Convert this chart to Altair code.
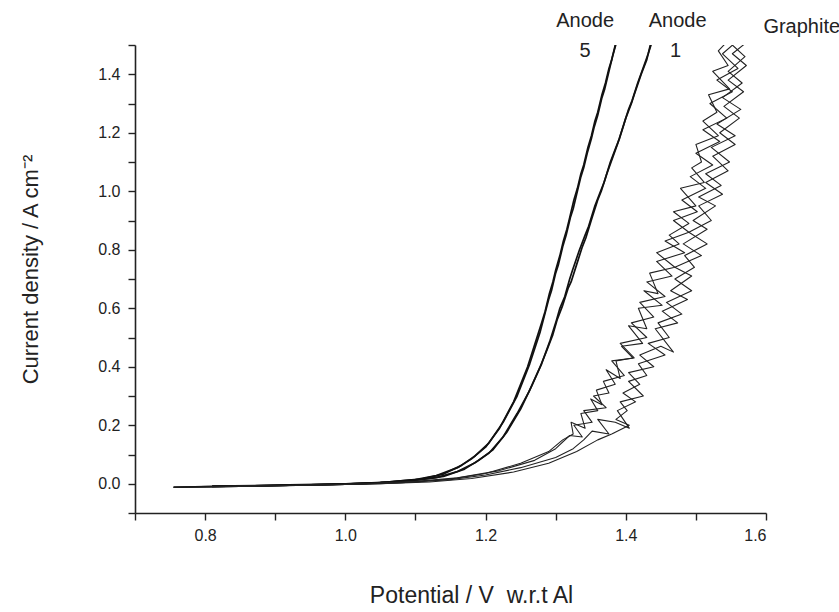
import altair as alt
import pandas as pd

# ---------------- data ----------------
anode5_a_x = [0.755, 0.80, 0.90, 1.00, 1.05, 1.10, 1.13, 1.16, 1.18, 1.20, 1.22, 1.24, 1.26, 1.28,
              1.285, 1.291, 1.296, 1.30, 1.306, 1.311, 1.316, 1.32, 1.326, 1.331, 1.336, 1.34, 1.346,
              1.351, 1.356, 1.36, 1.366, 1.371, 1.376, 1.38, 1.386]
anode5_a_y = [-0.012, -0.010, -0.006, -0.001, 0.004, 0.014, 0.028, 0.055, 0.085, 0.125, 0.19, 0.28, 0.40, 0.55,
              0.59, 0.65, 0.69, 0.73, 0.78, 0.83, 0.87, 0.91, 0.97, 1.01, 1.06, 1.09, 1.15,
              1.19, 1.24, 1.27, 1.33, 1.37, 1.42, 1.45, 1.51]
anode5_b_x = [0.81, 0.90, 1.00, 1.06, 1.11, 1.14, 1.165, 1.185, 1.205, 1.225, 1.245, 1.263, 1.278, 1.29,
              1.294, 1.30, 1.304, 1.31, 1.315, 1.321, 1.325, 1.33, 1.336, 1.34, 1.345, 1.351, 1.355,
              1.36, 1.366, 1.37, 1.375, 1.381, 1.388]
anode5_b_y = [-0.009, -0.006, -0.001, 0.006, 0.017, 0.033, 0.062, 0.095, 0.14, 0.21, 0.30, 0.41, 0.52, 0.63,
              0.66, 0.72, 0.75, 0.81, 0.85, 0.91, 0.94, 0.99, 1.05, 1.08, 1.13, 1.18, 1.22,
              1.26, 1.32, 1.35, 1.40, 1.46, 1.52]
anode1_a_x = [0.81, 0.90, 1.00, 1.05, 1.10, 1.14, 1.17, 1.19, 1.21, 1.23, 1.25, 1.265, 1.28, 1.286,
              1.292, 1.30, 1.306, 1.313, 1.32, 1.324, 1.334, 1.342, 1.347, 1.356, 1.364, 1.369, 1.378,
              1.386, 1.391, 1.40, 1.408, 1.412, 1.422, 1.43, 1.436]
anode1_a_y = [-0.008, -0.005, 0.0, 0.004, 0.012, 0.025, 0.05, 0.08, 0.115, 0.175, 0.255, 0.33, 0.41, 0.45,
              0.49, 0.55, 0.60, 0.64, 0.70, 0.73, 0.80, 0.85, 0.88, 0.95, 1.0, 1.03, 1.10,
              1.15, 1.18, 1.25, 1.30, 1.33, 1.40, 1.45, 1.51]
anode1_b_x = [0.755, 0.85, 0.95, 1.04, 1.09, 1.13, 1.16, 1.185, 1.205, 1.225, 1.245, 1.262, 1.277, 1.288,
              1.296, 1.302, 1.31, 1.318, 1.322, 1.33, 1.338, 1.343, 1.352, 1.36, 1.365, 1.373, 1.382,
              1.388, 1.396, 1.404, 1.409, 1.417, 1.426, 1.432, 1.44]
anode1_b_y = [-0.012, -0.008, -0.004, 0.002, 0.009, 0.021, 0.042, 0.072, 0.105, 0.16, 0.24, 0.315, 0.395, 0.46,
              0.51, 0.56, 0.61, 0.67, 0.69, 0.75, 0.81, 0.84, 0.91, 0.97, 1.0, 1.06, 1.12,
              1.16, 1.22, 1.28, 1.31, 1.37, 1.43, 1.47, 1.53]

graph_a_x = [0.755, 0.85, 0.95, 1.05, 1.10, 1.15, 1.20, 1.25, 1.29, 1.31,
             1.325, 1.322, 1.342, 1.336, 1.36, 1.35, 1.366, 1.358, 1.385, 1.372, 1.392, 1.386, 1.41, 1.394,
             1.424, 1.404, 1.43, 1.418, 1.452, 1.426, 1.446, 1.434, 1.47, 1.444, 1.476, 1.462, 1.49, 1.468,
             1.5, 1.478, 1.512, 1.494, 1.508, 1.5, 1.532, 1.51, 1.53, 1.518, 1.548, 1.524, 1.546, 1.532, 1.552]
graph_a_y = [-0.012, -0.009, -0.005, 0.0, 0.006, 0.016, 0.035, 0.07, 0.11, 0.15,
             0.17, 0.21, 0.19, 0.24, 0.25, 0.29, 0.27, 0.32, 0.34, 0.39, 0.36, 0.42, 0.43, 0.47,
             0.48, 0.54, 0.53, 0.60, 0.61, 0.66, 0.65, 0.72, 0.74, 0.79, 0.82, 0.85, 0.89, 0.93,
             0.95, 1.01, 1.03, 1.08, 1.10, 1.16, 1.19, 1.24, 1.27, 1.33, 1.35, 1.41, 1.43, 1.48, 1.53]
graph_b_x = [0.81, 0.90, 1.00, 1.08, 1.15, 1.20, 1.25, 1.30, 1.325,
             1.34, 1.352, 1.376, 1.36, 1.385, 1.405, 1.388, 1.414, 1.396, 1.42, 1.404, 1.44, 1.42, 1.45,
             1.468, 1.442, 1.474, 1.452, 1.488, 1.464, 1.494, 1.47, 1.508, 1.482, 1.516, 1.496, 1.528, 1.504,
             1.536, 1.514, 1.548, 1.522, 1.556, 1.53, 1.564, 1.538, 1.566, 1.546, 1.57, 1.552, 1.574]
graph_b_y = [-0.009, -0.006, -0.002, 0.004, 0.014, 0.03, 0.055, 0.09, 0.12,
             0.15, 0.18, 0.17, 0.22, 0.21, 0.19, 0.25, 0.28, 0.31, 0.34, 0.38, 0.40, 0.44, 0.47,
             0.45, 0.53, 0.55, 0.59, 0.63, 0.66, 0.71, 0.74, 0.78, 0.82, 0.87, 0.90, 0.95, 0.98,
             1.02, 1.06, 1.10, 1.15, 1.19, 1.23, 1.28, 1.32, 1.37, 1.41, 1.46, 1.50, 1.54]
graph_c_x = [0.81, 0.92, 1.02, 1.10, 1.16, 1.22, 1.27, 1.30, 1.32,
             1.338, 1.326, 1.352, 1.34, 1.372, 1.354, 1.376, 1.368, 1.398, 1.38, 1.412, 1.392, 1.43, 1.408,
             1.44, 1.42, 1.456, 1.43, 1.466, 1.444, 1.484, 1.456, 1.49, 1.468, 1.502, 1.48, 1.514, 1.492,
             1.524, 1.5, 1.534, 1.51, 1.544, 1.52, 1.552, 1.53, 1.56, 1.538, 1.562]
graph_c_y = [-0.01, -0.006, -0.001, 0.008, 0.02, 0.045, 0.08, 0.12, 0.165,
             0.16, 0.20, 0.21, 0.25, 0.26, 0.30, 0.31, 0.35, 0.37, 0.42, 0.43, 0.48, 0.50, 0.55,
             0.57, 0.62, 0.64, 0.69, 0.71, 0.76, 0.79, 0.83, 0.86, 0.90, 0.93, 0.97, 1.01, 1.05,
             1.09, 1.13, 1.17, 1.21, 1.25, 1.30, 1.34, 1.38, 1.42, 1.47, 1.52]
graph_d_x = [0.85, 0.95, 1.05, 1.12, 1.18, 1.24, 1.29, 1.33, 1.36,
             1.38, 1.405, 1.386, 1.402, 1.392, 1.425, 1.404, 1.43, 1.418, 1.456, 1.432, 1.462, 1.446, 1.48,
             1.458, 1.494, 1.47, 1.498, 1.484, 1.516, 1.49, 1.522, 1.504, 1.538, 1.514, 1.546, 1.524, 1.556,
             1.534, 1.562, 1.54, 1.568, 1.546, 1.572, 1.552, 1.578]
graph_d_y = [-0.008, -0.005, 0.0, 0.006, 0.018, 0.04, 0.07, 0.11, 0.15,
             0.17, 0.2, 0.22, 0.25, 0.28, 0.30, 0.35, 0.37, 0.41, 0.44, 0.48, 0.50, 0.55, 0.58,
             0.62, 0.66, 0.70, 0.74, 0.78, 0.82, 0.86, 0.90, 0.95, 0.99, 1.03, 1.07, 1.12, 1.16,
             1.20, 1.25, 1.29, 1.34, 1.38, 1.43, 1.47, 1.52]

label_text = ["Anode", "5", "Anode", "1", "Graphite"]
label_x = [1.342, 1.342, 1.474, 1.471, 1.651]
label_y = [1.581, 1.479, 1.581, 1.479, 1.561]

x_ticks = [0.7, 0.8, 0.9, 1.0, 1.1, 1.2, 1.3, 1.4, 1.5, 1.6]
y_ticks = [-0.1, 0.0, 0.1, 0.2, 0.3, 0.4, 0.5, 0.6, 0.7, 0.8, 0.9, 1.0, 1.1, 1.2, 1.3, 1.4, 1.5]

# ---------------- tables ----------------
traces = {
    "anode5_a": (anode5_a_x, anode5_a_y, "anode"),
    "anode5_b": (anode5_b_x, anode5_b_y, "anode"),
    "anode1_a": (anode1_a_x, anode1_a_y, "anode"),
    "anode1_b": (anode1_b_x, anode1_b_y, "anode"),
    "graph_a": (graph_a_x, graph_a_y, "graphite"),
    "graph_b": (graph_b_x, graph_b_y, "graphite"),
    "graph_c": (graph_c_x, graph_c_y, "graphite"),
    "graph_d": (graph_d_x, graph_d_y, "graphite"),
}
rows = []
for name, (xs_, ys_, kind) in traces.items():
    for i, (xv, yv) in enumerate(zip(xs_, ys_)):
        rows.append({"trace": name, "kind": kind, "i": i, "E": xv, "J": yv})
df = pd.DataFrame(rows)
labels = pd.DataFrame({"t": label_text, "E": label_x, "J": label_y})

even = "abs(round(datum.value*10) % 2) == 0"
font = "Liberation Sans"

x_axis = alt.Axis(
    values=x_ticks, labelExpr=f"{even} ? format(datum.value, '.1f') : ''",
    grid=False, labelOverlap=False, labelPadding=7,
    title="Potential / V\u00a0 w.r.t Al", titleFontSize=23,
    titleX=336, titleY=82, titleAlign="center", titleBaseline="middle",
)
y_axis = alt.Axis(
    values=y_ticks, labelExpr=f"{even} ? format(datum.value, '.1f') : ''",
    grid=False, labelOverlap=False, labelPadding=8,
    title="Current density / A cm\u207b\u00b2", titleFontSize=22,
    titleX=-105, titleY=224, titleAlign="center", titleBaseline="middle", titleAngle=-90,
)
xs = alt.Scale(domain=[0.7, 1.6], nice=False, zero=False)
ys = alt.Scale(domain=[-0.1, 1.5], nice=False, zero=False)

lines = alt.Chart(df).mark_line(clip=True, strokeJoin="round").encode(
    x=alt.X("E:Q", scale=xs, axis=x_axis),
    y=alt.Y("J:Q", scale=ys, axis=y_axis),
    detail="trace:N",
    order="i:Q",
    color=alt.Color("kind:N", scale=alt.Scale(domain=["anode", "graphite"], range=["#111", "#222"]), legend=None),
    strokeWidth=alt.StrokeWidth("kind:N", scale=alt.Scale(domain=["anode", "graphite"], range=[1.7, 1.1]), legend=None),
)

text = alt.Chart(labels).mark_text(font=font, fontSize=20, color="#222", clip=False, baseline="middle", align="center").encode(
    x=alt.X("E:Q", scale=xs, axis=x_axis),
    y=alt.Y("J:Q", scale=ys, axis=y_axis),
    text="t:N",
)

chart = alt.layer(lines, text).properties(
    width=631, height=468,
    padding={"left": 135, "top": 45, "right": 73, "bottom": 99},
    autosize="none",
    background="white",
).configure_view(stroke=None).configure_axis(
    labelFont=font, labelFontSize=16, labelColor="#222",
    titleFont=font, titleFontWeight="normal", titleColor="#222",
    domainColor="#222", domainWidth=1.6, tickColor="#222", tickWidth=1.4, tickSize=7,
)

chart.save("out.html", embed_options={"renderer": "svg", "actions": False})
